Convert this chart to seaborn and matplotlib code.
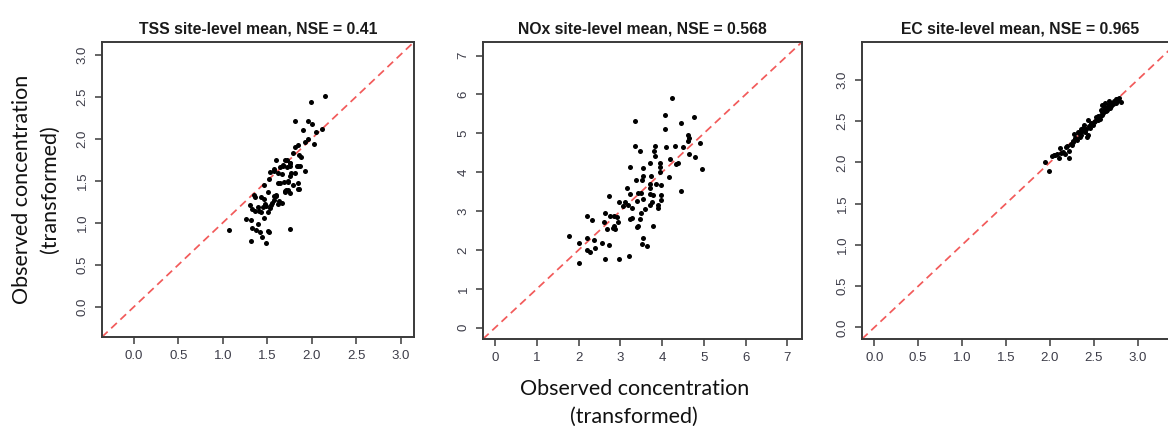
import numpy as np
import pandas as pd
import seaborn as sns
from matplotlib import pyplot as plt

## data
tss_x = [2.15, 1.99, 1.81, 1.96, 2.00, 1.90, 2.11, 2.05, 1.96, 1.92, 2.03, 1.81, 1.85, 1.79, 1.86, 1.88,
         1.60, 1.70, 1.75, 1.76, 1.68, 1.83, 1.87, 1.81, 1.72, 1.64, 1.57, 1.92, 1.53, 1.62, 1.66, 1.75,
         1.52, 1.62, 1.69, 1.73, 1.79, 1.84, 1.86, 1.71, 1.70, 1.73, 1.46, 1.51, 1.43, 1.36, 1.46, 1.57,
         1.58, 1.60, 1.35, 1.62, 1.67, 1.55, 1.31, 1.39, 1.45, 1.49, 1.53, 1.33, 1.36, 1.41, 1.51, 1.46,
         1.26, 1.32, 1.39, 1.33, 1.37, 1.07, 1.42, 1.52, 1.51, 1.75, 1.44, 1.32, 1.48,
         1.72, 1.75, 1.68, 1.84, 1.58, 1.77, 1.64, 1.73, 1.70, 1.75, 1.85, 1.60, 1.63, 1.54, 1.47, 1.43]
tss_y = [2.51, 2.44, 2.21, 2.21, 2.18, 2.10, 2.12, 2.08, 2.00, 1.96, 1.94, 1.90, 1.93, 1.83, 1.80, 1.78,
         1.75, 1.75, 1.71, 1.68, 1.69, 1.67, 1.67, 1.59, 1.66, 1.66, 1.64, 1.61, 1.60, 1.59, 1.58, 1.56,
         1.52, 1.47, 1.49, 1.49, 1.45, 1.47, 1.40, 1.39, 1.37, 1.39, 1.45, 1.37, 1.30, 1.30, 1.28, 1.27,
         1.32, 1.33, 1.33, 1.22, 1.23, 1.24, 1.21, 1.19, 1.19, 1.20, 1.18, 1.16, 1.14, 1.14, 1.13, 1.06,
         1.04, 1.03, 0.98, 0.94, 0.91, 0.91, 0.89, 0.89, 0.90, 0.92, 0.83, 0.78, 0.76,
         1.75, 1.71, 1.67, 1.67, 1.61, 1.59, 1.47, 1.50, 1.38, 1.35, 1.40, 1.32, 1.26, 1.21, 1.22, 1.13]

nox_x = [4.24, 4.06, 3.34, 4.77, 4.45, 4.06, 4.63, 4.64, 4.63, 3.34, 3.82, 4.10, 4.30, 4.51, 4.91, 3.48,
         3.80, 3.82, 4.64, 4.79, 3.72, 3.94, 3.94, 4.18, 4.38, 3.24, 3.55, 4.95, 3.94, 4.17, 3.54, 3.38,
         3.52, 3.74, 4.46, 3.16, 3.72, 3.86, 3.98, 3.70, 3.24, 3.42, 3.50, 3.70, 3.78, 3.98, 2.74, 3.54,
         3.40, 3.76, 3.98, 2.98, 3.10, 3.18, 3.06, 3.29, 3.72, 3.91, 3.91, 3.60, 3.50, 2.20, 2.64, 2.33,
         2.76, 2.86, 2.92, 3.24, 3.28, 3.46, 2.60, 2.94, 2.84, 2.82, 2.68, 2.88, 3.42, 3.78, 1.77, 2.21,
         3.54, 2.36, 2.01, 2.56, 2.74, 3.52, 3.64, 2.21, 2.27, 2.39, 3.20, 2.64, 2.98, 2.01, 4.34, 3.40]
nox_y = [5.91, 5.48, 5.32, 5.42, 5.27, 5.11, 4.97, 4.89, 4.80, 4.68, 4.68, 4.65, 4.68, 4.64, 4.74, 4.55,
         4.55, 4.42, 4.48, 4.40, 4.23, 4.23, 4.14, 4.33, 4.23, 4.14, 4.11, 4.08, 4.01, 3.88, 3.91, 3.80,
         3.80, 3.91, 3.53, 3.59, 3.71, 3.71, 3.67, 3.59, 3.44, 3.47, 3.46, 3.44, 3.41, 3.41, 3.40, 3.30,
         3.27, 3.24, 3.29, 3.24, 3.24, 3.16, 3.12, 3.09, 3.16, 3.16, 3.07, 3.05, 2.96, 2.88, 2.94, 2.76,
         2.88, 2.88, 2.84, 2.79, 2.82, 2.79, 2.71, 2.71, 2.62, 2.56, 2.54, 2.54, 2.62, 2.62, 2.37, 2.32,
         2.32, 2.26, 2.18, 2.19, 2.13, 2.16, 2.09, 1.99, 1.95, 2.05, 1.85, 1.77, 1.77, 1.66, 4.20, 2.58]

ec_x = [1.94, 1.99, 2.03, 2.06, 2.10, 2.13, 2.17, 2.12, 2.19, 2.22, 2.22, 2.25, 2.26, 2.30, 2.28, 2.32,
        2.34, 2.36, 2.40, 2.39, 2.42, 2.43, 2.44, 2.46, 2.49, 2.53, 2.57, 2.59, 2.63, 2.67, 2.74, 2.77,
        2.81, 2.60, 2.64, 2.69, 2.71, 2.79, 2.68, 2.63, 2.60, 2.05, 2.08, 2.15, 2.20, 2.24, 2.27, 2.29,
        2.31, 2.33, 2.35, 2.37, 2.38, 2.41, 2.45, 2.47, 2.50, 2.52, 2.55, 2.56, 2.58, 2.60, 2.61, 2.62,
        2.64, 2.65, 2.66, 2.68, 2.70, 2.72, 2.73, 2.75, 2.76, 2.78, 2.62, 2.58, 2.55]
ec_y = [2.00, 1.90, 2.08, 2.09, 2.06, 2.11, 2.10, 2.18, 2.19, 2.06, 2.14, 2.21, 2.26, 2.28, 2.34, 2.37,
        2.31, 2.40, 2.37, 2.45, 2.31, 2.33, 2.52, 2.42, 2.46, 2.55, 2.53, 2.62, 2.64, 2.70, 2.75, 2.77,
        2.73, 2.58, 2.62, 2.66, 2.72, 2.78, 2.74, 2.72, 2.70, 2.09, 2.10, 2.13, 2.20, 2.22, 2.25, 2.30,
        2.27, 2.36, 2.33, 2.38, 2.42, 2.40, 2.44, 2.48, 2.49, 2.50, 2.56, 2.54, 2.58, 2.62, 2.60, 2.64,
        2.66, 2.63, 2.68, 2.70, 2.68, 2.71, 2.74, 2.77, 2.72, 2.76, 2.67, 2.63, 2.52]

titles = ["TSS site-level mean, NSE = 0.41",
          "NOx site-level mean, NSE = 0.568",
          "EC site-level mean, NSE = 0.965"]
label_text = "Observed concentration\n(transformed)"

sns.set_style("white")
plt.rcParams['font.family'] = ['Liberation Sans', 'DejaVu Sans']

fig = plt.figure(figsize=(11.68, 4.26), dpi=100)

panels = [
    # (data x, data y, rect, limits, ticks, tick format)
    (tss_x, tss_y, [0.0873, 0.2089, 0.2671, 0.6925], (-0.36, 3.15), np.arange(0, 3.01, 0.5), "{:.1f}"),
    (nox_x, nox_y, [0.4135, 0.2042, 0.2731, 0.6972], (-0.29, 7.35), np.arange(0, 8), "{:.0f}"),
    (ec_x, ec_y, [0.7380, 0.2042, 0.2705, 0.6972], (-0.14, 3.46), np.arange(0, 3.01, 0.5), "{:.1f}"),
]

for (xs, ys, rect, lim, ticks, fmt), title in zip(panels, titles):
    ax = fig.add_axes(rect)
    df = pd.DataFrame({"x": xs, "y": ys})
    sns.scatterplot(data=df, x="x", y="y", ax=ax, color="black", s=13, linewidth=0, zorder=3)
    ax.axline((0, 0), slope=1, color="#f25a5a", lw=1.25, dashes=(4.5, 2.8), zorder=2)
    ax.set_xlim(lim)
    ax.set_ylim(lim)
    ax.set_xticks(ticks)
    ax.set_yticks(ticks)
    ax.set_xticklabels([fmt.format(t) for t in ticks])
    ax.set_yticklabels([fmt.format(t) for t in ticks], rotation=90, va="center")
    ax.tick_params(direction="out", length=5, width=1.1, color="#3a3a3a",
                   labelsize=9.5, labelcolor="#3c3c48", pad=4.5, bottom=True, left=True)
    ax.set_xlabel("")
    ax.set_ylabel("")
    for sp in ax.spines.values():
        sp.set_linewidth(1.4)
        sp.set_color("#3a3a3a")
    ax.set_title(title, fontsize=11.3, fontweight="bold", pad=6, color="#1a1a1a")

fig.text(0.543, 0.054, label_text, ha="center", va="center", fontsize=15.5,
         family=["Lato", "DejaVu Sans"], linespacing=1.5, color="#111111")
fig.text(0.031, 0.556, label_text, ha="center", va="center", fontsize=15.5, rotation=90,
         family=["Lato", "DejaVu Sans"], linespacing=1.5, color="#111111")

fig.savefig("out.png", dpi=100)
